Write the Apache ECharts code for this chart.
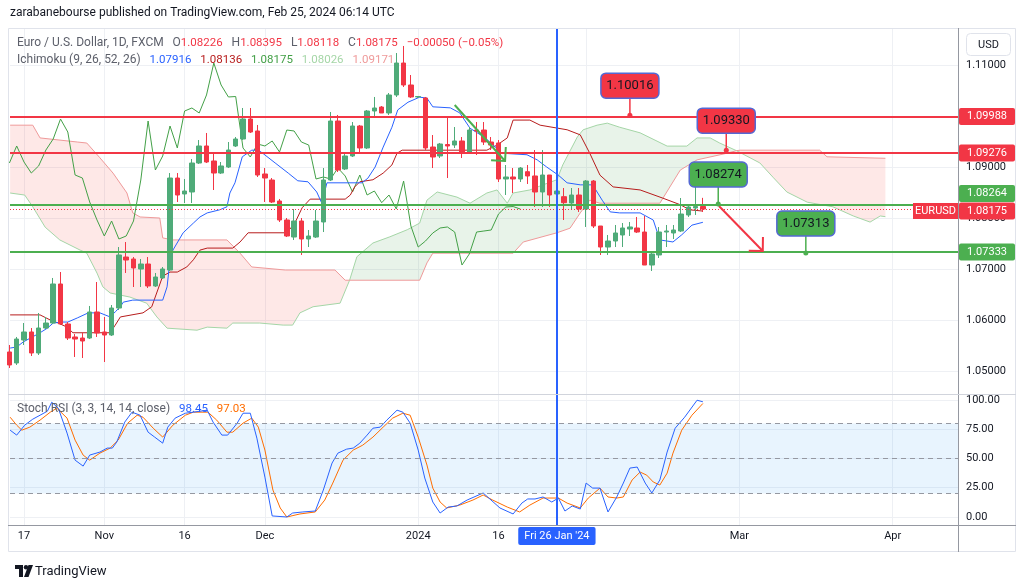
<!DOCTYPE html>
<html>
<head>
<meta charset="utf-8">
<title>EURUSD 1D</title>
<script src="https://cdn.jsdelivr.net/npm/echarts@6/dist/echarts.min.js"></script>
<style>
html,body{margin:0;padding:0;background:#ffffff;}
#chart{width:1024px;height:588px;}
</style>
</head>
<body>
<div id="chart"></div>
<script>
// ---------------- DATA ----------------
// daily bars; bar index 0 = 2023-10-17, first bar (index -2) = 2023-10-13
const firstIndex = -2;
const opens = [
  1.05373,1.05157,
  1.05608,1.05765,1.05353,1.05843,1.05941,1.06706,1.05922,1.05667,1.05647,1.05647,
  1.06157,1.05765,1.05706,1.06235,1.07235,1.07196,1.07000,1.07098,1.06667,1.06824,
  1.06980,1.08784,1.08471,1.08510,1.09078,1.09412,1.09118,1.08882,1.09000,1.09412,
  1.09549,1.09941,1.09706,1.08863,1.08745,1.08333,1.07961,1.07627,1.07941,1.07588,
  1.07627,1.07922,1.08745,1.09902,1.08961,1.09216,1.09804,1.09373,1.10098,1.10176,
  1.10059,1.10412,1.11039,1.10608,1.10373,1.10353,1.09392,1.09216,1.09441,1.09431,
  1.09510,1.09294,1.09725,1.09725,1.09490,1.09471,1.08765,1.08804,1.08765,1.08908,
  1.08824,1.08510,1.08843,1.08471,1.08418,1.08294,1.08451,1.08176,1.08725,1.07843,
  1.07431,1.07549,1.07667,1.07784,1.07804,1.07725,1.07078,1.07275,1.07725,1.07706,
  1.07745,1.08059,1.08196,1.08226
];
const highs = [
  1.05510,1.05667,
  1.05941,1.05843,1.06137,1.06059,1.06824,1.06941,1.05961,1.05725,1.05745,1.06275,
  1.06745,1.06059,1.06294,1.07431,1.07529,1.07235,1.07196,1.07235,1.06922,1.07039,
  1.08882,1.08882,1.08765,1.09157,1.09529,1.09667,1.09275,1.09098,1.09490,1.09588,
  1.10157,1.10157,1.09824,1.08980,1.08784,1.08373,1.08000,1.08176,1.08000,1.07765,
  1.08157,1.08980,1.10078,1.10020,1.09275,1.09882,1.09824,1.10118,1.10373,1.10196,
  1.10451,1.11235,1.11373,1.10804,1.10392,1.10373,1.09627,1.09471,1.10000,1.09784,
  1.09588,1.09784,1.09882,1.09882,1.09588,1.09529,1.09039,1.08980,1.09000,1.09039,
  1.09333,1.09333,1.08843,1.08588,1.08588,1.08588,1.08588,1.08745,1.08745,1.07843,
  1.07667,1.07863,1.07902,1.07922,1.08020,1.08039,1.07333,1.07823,1.07863,1.07863,
  1.08392,1.08255,1.08863,1.08395
];
const lows = [
  1.05059,1.05118,
  1.05510,1.05294,1.05314,1.05824,1.05922,1.05902,1.05608,1.05275,1.05255,1.05627,
  1.05667,1.05176,1.05686,1.06196,1.06922,1.06647,1.06647,1.06627,1.06647,1.06804,
  1.06961,1.08314,1.08294,1.08294,1.09059,1.09078,1.08549,1.08863,1.08980,1.09392,
  1.09529,1.09667,1.08804,1.08314,1.08294,1.07922,1.07627,1.07569,1.07275,1.07431,
  1.07608,1.07725,1.08725,1.08902,1.08941,1.09196,1.09294,1.09353,1.09961,1.10059,
  1.10020,1.10373,1.10569,1.10353,1.10353,1.09333,1.08980,1.09176,1.08784,1.09373,
  1.09176,1.09275,1.09235,1.09431,1.09333,1.08706,1.08451,1.08490,1.08706,1.08667,
  1.08216,1.08216,1.08216,1.08412,1.07961,1.08157,1.08118,1.07824,1.07804,1.07275,
  1.07275,1.07431,1.07431,1.07647,1.07706,1.07078,1.06961,1.07216,1.07431,1.07588,
  1.07725,1.08020,1.08059,1.08118
];
const closes = [
  1.05118,1.05627,
  1.05765,1.05353,1.05843,1.05941,1.06706,1.05922,1.05647,1.05627,1.05588,1.06157,
  1.05745,1.05706,1.06235,1.07275,1.07176,1.07020,1.07098,1.06667,1.06843,1.07000,
  1.08784,1.08451,1.08529,1.09078,1.09412,1.09098,1.08882,1.09020,1.09333,1.09549,
  1.09941,1.09686,1.08843,1.08784,1.08314,1.07961,1.07647,1.07941,1.07588,1.07647,
  1.07941,1.08745,1.09902,1.08941,1.09216,1.09804,1.09373,1.10098,1.10157,1.10059,
  1.10412,1.11039,1.10608,1.10373,1.10382,1.09373,1.09196,1.09451,1.09412,1.09510,
  1.09294,1.09725,1.09706,1.09490,1.09431,1.08765,1.08804,1.08765,1.08980,1.08824,
  1.08510,1.08843,1.08451,1.08529,1.08300,1.08451,1.08176,1.08725,1.07843,1.07431,
  1.07549,1.07706,1.07804,1.07824,1.07725,1.07078,1.07294,1.07725,1.07745,1.07765,
  1.08078,1.08216,1.08225,1.08175
];

// Ichimoku (9, 26, 52, 26) lines as [barIndex, price]
const conversionLine = [[-1.9,1.0545],[-1.0,1.0547],[-0.1,1.0557],[2.2,1.0575],[3.2,1.0584],[4.0,1.0594],[5.2,1.0596],[6.0,1.0596],[7.3,1.0604],[8.8,1.0614],[10.4,1.0614],[11.8,1.0606],[12.5,1.0616],[13.2,1.0626],[13.6,1.0635],[14.9,1.0639],[19.0,1.0639],[19.6,1.0665],[20.0,1.0718],[20.4,1.0737],[21.8,1.0771],[23.2,1.0790],[24.1,1.0802],[25.1,1.0810],[26.8,1.0816],[27.8,1.0822],[28.2,1.0849],[28.9,1.0869],[29.9,1.0920],[31.2,1.0933],[32.1,1.0933],[32.7,1.0927],[34.4,1.0908],[36.2,1.0888],[37.5,1.0873],[38.9,1.0871],[40.1,1.0851],[40.8,1.0829],[41.5,1.0869],[46.3,1.0869],[47.1,1.0878],[48.1,1.0900],[49.2,1.0939],[50.4,1.0978],[51.2,1.1012],[52.6,1.1027],[54.2,1.1037],[55.2,1.1035],[56.0,1.1018],[58.4,1.1016],[59.7,1.1006],[61.1,1.0976],[63.2,1.0957],[63.8,1.0949],[65.5,1.0927],[68.9,1.0924],[70.3,1.0914],[71.6,1.0900],[73.2,1.0884],[74.4,1.0869],[76.2,1.0865],[77.9,1.0865],[79.2,1.0835],[80.3,1.0812],[81.6,1.0810],[84.4,1.0810],[86.2,1.0796],[87.1,1.0757],[88.9,1.0753],[90.1,1.0767],[91.5,1.0786],[93.0,1.07916]];
const baseLine = [[-1.9,1.0610],[2.2,1.0610],[3.6,1.0600],[4.7,1.0594],[5.9,1.0586],[6.7,1.0575],[11.8,1.0575],[12.5,1.0590],[13.2,1.0606],[16.3,1.0614],[17.5,1.0626],[19.0,1.0686],[20.0,1.0694],[21.0,1.0694],[22.3,1.0704],[23.2,1.0718],[24.1,1.0737],[25.1,1.0741],[28.6,1.0741],[29.6,1.0753],[30.7,1.0771],[36.0,1.0771],[37.1,1.0790],[38.1,1.0820],[39.2,1.0837],[44.0,1.0837],[44.7,1.0845],[45.3,1.0861],[46.0,1.0871],[47.8,1.0875],[49.2,1.0888],[50.4,1.0904],[51.1,1.0927],[51.8,1.0933],[63.4,1.0933],[64.8,1.0943],[66.2,1.0957],[67.0,1.0992],[69.3,1.0992],[70.7,1.0982],[74.4,1.0973],[76.2,1.0963],[77.5,1.0927],[78.9,1.0884],[80.7,1.0861],[84.4,1.0855],[87.5,1.0839],[89.9,1.0826],[91.2,1.0816],[93.0,1.08136]];
const laggingShift = 25; // lagging span = close plotted 25 bars back
const leadingSpanA = [[-1.9,1.0849],[0.1,1.0845],[1.2,1.0822],[2.9,1.0782],[4.9,1.0757],[7.7,1.0737],[8.6,1.0731],[10.0,1.0692],[10.8,1.0665],[11.8,1.0653],[14.5,1.0645],[16.8,1.0633],[18.2,1.0606],[19.6,1.0584],[23.7,1.0580],[25.1,1.0586],[27.8,1.0584],[28.6,1.0594],[32.3,1.0594],[35.5,1.0590],[36.8,1.0590],[37.8,1.0614],[39.6,1.0626],[43.3,1.0633],[44.6,1.0678],[45.6,1.0724],[47.8,1.0751],[50.1,1.0763],[52.5,1.0777],[54.2,1.0790],[55.2,1.0835],[56.6,1.0851],[59.3,1.0841],[61.1,1.0829],[63.4,1.0849],[64.8,1.0855],[66.2,1.0829],[67.0,1.0849],[69.3,1.0855],[71.1,1.0865],[73.0,1.0875],[73.8,1.0904],[75.8,1.0959],[76.6,1.0973],[78.5,1.0982],[79.9,1.0986],[81.6,1.0978],[84.4,1.0967],[88.1,1.0941],[90.8,1.0941],[92.2,1.0957],[94.0,1.0957],[95.3,1.0947],[97.6,1.0932],[100.8,1.0908],[102.6,1.0880],[104.5,1.0851],[107.3,1.0831],[110.8,1.0822],[113.6,1.0804],[115.9,1.0792],[117.3,1.0804],[118.0,1.08026]];
const leadingSpanB = [[-1.9,1.0982],[1.2,1.0982],[2.2,1.0957],[7.3,1.0949],[8.6,1.0947],[10.4,1.0918],[12.2,1.0888],[14.1,1.0849],[14.9,1.0810],[15.9,1.0802],[18.6,1.0800],[19.0,1.0761],[20.4,1.0757],[27.8,1.0757],[29.6,1.0731],[31.2,1.0704],[35.8,1.0698],[42.6,1.0698],[44.0,1.0678],[44.6,1.0678],[54.2,1.0678],[55.2,1.0712],[56.0,1.0731],[67.0,1.0731],[68.4,1.0753],[73.0,1.0771],[74.8,1.0780],[76.2,1.0810],[77.5,1.0835],[78.9,1.0829],[87.1,1.0829],[89.9,1.0894],[92.2,1.0914],[96.3,1.0927],[97.6,1.0932],[98.1,1.0933],[109.0,1.0933],[110.0,1.0920],[118.0,1.09171]];
const cloudCrossings = [44.6, 97.6];

// Stoch RSI (3, 3, 14, 14, close), [barIndex, value]
const stochK = [[-1.9,74.2],[-1.0,70.0],[0.1,78.5],[1.2,83.6],[2.2,87.0],[3.2,90.4],[3.8,98.1],[4.7,93.0],[5.9,71.7],[7.0,48.6],[8.1,43.5],[9.0,52.9],[10.4,55.5],[11.4,58.9],[12.1,58.9],[12.7,64.0],[13.8,81.1],[14.8,89.6],[15.9,87.0],[17.0,72.5],[17.9,68.3],[19.0,63.1],[19.7,76.8],[20.7,84.5],[22.1,88.7],[23.2,89.6],[25.1,91.3],[25.9,81.1],[27.1,70.0],[27.9,70.0],[29.2,80.2],[30.0,88.7],[31.0,88.7],[31.9,67.4],[33.0,34.1],[34.0,0.9],[36.0,0],[36.8,3.4],[38.2,4.3],[39.9,5.1],[41.0,23.0],[42.2,46.1],[43.0,54.6],[44.2,58.0],[45.1,58.9],[46.0,63.1],[47.0,70.0],[47.8,75.9],[48.8,76.8],[49.7,82.8],[51.1,91.3],[51.9,89.6],[52.9,80.2],[54.0,57.2],[54.9,33.3],[56.0,12.8],[57.0,3.4],[58.1,8.5],[59.3,9.4],[60.7,14.5],[62.9,20.5],[65.2,7.7],[67.0,2.6],[68.2,11.9],[69.0,15.4],[70.0,15.4],[71.1,17.1],[72.3,12.8],[73.2,16.2],[74.1,5.1],[75.1,9.4],[76.2,6.8],[77.0,29.0],[77.9,24.7],[78.9,24.7],[80.0,4.3],[81.2,17.1],[82.1,29.0],[83.0,41.8],[84.0,42.7],[85.1,29.0],[86.0,20.5],[87.1,31.6],[88.1,55.5],[89.2,75.9],[90.5,85.3],[92.2,99.8],[93.0,98.45]];
const stochD = [[-1.9,85.3],[-1.0,78.5],[-0.3,74.2],[0.8,76.8],[2.2,82.8],[3.6,89.6],[4.5,93.0],[5.9,84.5],[7.0,65.7],[8.1,52.9],[9.0,48.6],[10.4,54.6],[11.8,58.9],[12.9,65.7],[14.2,80.2],[15.5,87.0],[16.3,85.3],[17.7,75.9],[19.0,68.3],[20.4,78.5],[22.1,87.0],[23.2,89.6],[25.2,89.6],[26.4,82.8],[27.8,72.5],[28.6,72.5],[30.0,80.2],[31.2,84.5],[32.1,76.8],[33.0,57.2],[34.1,23.0],[35.1,7.7],[36.0,0],[37.8,2.6],[39.9,4.3],[41.2,14.5],[42.3,29.0],[43.7,48.6],[45.1,57.2],[46.4,61.4],[47.8,68.3],[49.2,76.8],[50.5,84.5],[51.9,88.7],[52.9,87.0],[54.0,68.3],[55.2,44.4],[56.0,24.7],[57.0,12.8],[57.9,7.7],[59.7,10.2],[61.5,14.5],[62.9,18.8],[64.2,14.5],[66.2,8.5],[67.9,4.3],[69.3,10.2],[71.1,16.2],[73.2,16.2],[74.4,11.9],[76.2,7.7],[77.3,16.2],[78.9,24.7],[80.0,17.1],[81.2,16.2],[82.1,17.1],[83.3,31.6],[84.4,38.4],[85.3,35.8],[86.2,29.9],[87.1,27.3],[88.1,37.5],[88.9,54.6],[90.1,74.2],[91.5,87.0],[93.0,97.03]];
const stochBands = [20, 50, 80];

// drawings
const levelPrices = [1.09988, 1.09276, 1.08264, 1.07333];
const levelKinds  = ['red', 'red', 'green', 'green'];
const notePoints  = [[83.0, 1.10016], [96.2, 1.09330], [95.1, 1.08274], [107.1, 1.07313]];
const noteKinds   = ['red', 'red', 'green', 'green'];
const arrowLines  = [[59.0, 1.10216, 65.9, 1.09118], [95.2, 1.08235, 101.2, 1.07353]];
const arrowKinds  = ['green', 'red'];
const crosshairIndex = 73;
const crosshairLabel = "Fri 26 Jan '24";

// axes
const tickIndex  = [0, 11, 22, 33, 54, 65, 77, 98, 119];
const tickLabels = ['17', 'Nov', '16', 'Dec', '2024', '16', 'Feb', 'Mar', 'Apr'];
const priceTicks = [1.05, 1.06, 1.07, 1.08, 1.09, 1.10, 1.11];
const stochTicks = [0, 25, 50, 75, 100];

// ---------------- STYLE ----------------
const RED = '#F23645', GREEN = '#4CAF50';
const KIND = {red: RED, green: GREEN};
const UP = '#4FAB79', DOWN = '#F23645';
const FONT = 'Roboto, "Noto Sans", sans-serif';
const GRIDC = '#eef0f4';
const TXT = '#131722';
const X_MIN = -1.918, X_MAX = 127.945;
const P_MIN = 1.04549, P_MAX = 1.11706;
const S_MIN = -6.84, S_MAX = 104.27;
const tagShift = {'1.08264': -11, '1.08175': 2};

// ---------------- BUILD ----------------
const candles = opens.map((o, i) => [i + firstIndex, o, closes[i], lows[i], highs[i]]);
const lagging = closes.map((c, i) => [i + firstIndex - laggingShift, c]).filter(p => p[0] >= firstIndex);
const last = opens.length - 1;
const lastClose = closes[last];
const chg = lastClose - closes[last - 1];
const sgn = chg < 0 ? '\u2212' : '+';
const chgTxt = sgn + Math.abs(chg).toFixed(5) + ' (' + sgn + Math.abs(chg / closes[last - 1] * 100).toFixed(2) + '%)';
const lastOf = a => a[a.length - 1][1];
const tickMap = {};
tickIndex.forEach((v, i) => tickMap[v] = tickLabels[i]);

const tags = levelPrices.map((p, i) => [p, KIND[levelKinds[i]]]).concat([[lastClose, RED]]);

const chart = echarts.init(document.getElementById('chart'), null, {renderer: 'canvas'});

function cloudRender(params, api) {
  const bounds = [leadingSpanA[0][0]].concat(cloudCrossings, [leadingSpanA[leadingSpanA.length - 1][0]]);
  const children = [];
  for (let k = 0; k < bounds.length - 1; k++) {
    const lo = bounds[k] - 1e-9, hi = bounds[k + 1] + 1e-9;
    const a = leadingSpanA.filter(p => p[0] >= lo && p[0] <= hi);
    const b = leadingSpanB.filter(p => p[0] >= lo && p[0] <= hi);
    const aAbove = a[Math.floor(a.length / 2)][1] > b[Math.floor(b.length / 2)][1];
    const pts = a.concat(b.slice().reverse()).map(p => api.coord(p));
    children.push({type: 'polygon', shape: {points: pts},
      style: {fill: aAbove ? 'rgba(67,160,71,0.12)' : 'rgba(244,67,54,0.12)'}});
  }
  return {type: 'group', children};
}

function noteRender(params, api) {
  const c = api.coord([api.value(0), api.value(1)]);
  const col = KIND[noteKinds[params.dataIndex]];
  const stem = 17, bw = 58, bh = 25;
  return {type: 'group', children: [
    {type: 'line', shape: {x1: c[0], y1: c[1], x2: c[0], y2: c[1] - stem}, style: {stroke: col, lineWidth: 1.5}},
    {type: 'circle', shape: {cx: c[0], cy: c[1], r: 2.5}, style: {fill: col}},
    {type: 'rect', shape: {x: c[0] - bw / 2, y: c[1] - stem - bh, width: bw, height: bh, r: 5},
      style: {fill: col, stroke: '#5468d4', lineWidth: 1.5}},
    {type: 'text', style: {text: api.value(1).toFixed(5), x: c[0], y: c[1] - stem - bh / 2,
      align: 'center', verticalAlign: 'middle', fill: '#131722', fontSize: 13, fontFamily: FONT}}
  ]};
}

function arrowRender(params, api) {
  const p1 = api.coord([api.value(0), api.value(1)]);
  const p2 = api.coord([api.value(2), api.value(3)]);
  const col = KIND[arrowKinds[params.dataIndex]];
  const ang = Math.atan2(p2[1] - p1[1], p2[0] - p1[0]);
  const L = 14;
  const h1 = [p2[0] - L * Math.cos(ang - Math.PI / 4), p2[1] - L * Math.sin(ang - Math.PI / 4)];
  const h2 = [p2[0] - L * Math.cos(ang + Math.PI / 4), p2[1] - L * Math.sin(ang + Math.PI / 4)];
  return {type: 'group', children: [
    {type: 'polyline', shape: {points: [p1, p2]}, style: {stroke: col, lineWidth: 2, fill: null}},
    {type: 'polyline', shape: {points: [h1, p2, h2]}, style: {stroke: col, lineWidth: 2, fill: null}}
  ]};
}

function tagRender(params, api) {
  const cs = params.coordSys;
  const price = api.value(0);
  const key = price.toFixed(5);
  const y = api.coord([X_MIN, price])[1] + (tagShift[key] || 0);
  const x = cs.x + cs.width + 1;
  const col = tags[params.dataIndex][1];
  return {type: 'group', children: [
    {type: 'rect', shape: {x: x, y: y - 8.5, width: 56, height: 17, r: 2}, style: {fill: col}},
    {type: 'text', style: {text: key, x: x + 28, y: y, align: 'center', verticalAlign: 'middle',
      fill: '#ffffff', fontSize: 11, fontFamily: FONT}}
  ]};
}

const rt = (c, s) => ({color: c, fontSize: s || 12, fontFamily: FONT, fontWeight: 'normal'});
const GRAY = '#5d606b';
const NUM = 11.5;

const option = {
  animation: false,
  backgroundColor: '#ffffff',
  textStyle: {fontFamily: FONT},
  title: [
    {text: 'zarabanebourse published on TradingView.com, Feb 25, 2024 06:14 UTC', left: 10, top: 7, padding: 0,
      textStyle: {fontSize: 12, fontWeight: 'normal', color: TXT, fontFamily: FONT}},
    {text: '{g|Euro / U.S. Dollar, 1D, FXCM}  {g|O}{r|' + opens[last].toFixed(5) + '}  {g|H}{r|' + highs[last].toFixed(5) +
      '}  {g|L}{r|' + lows[last].toFixed(5) + '}  {g|C}{r|' + lastClose.toFixed(5) + '}  {r|' + chgTxt + '}',
      left: 17, top: 34, padding: 0, textStyle: {fontWeight: 'normal', rich: {g: rt(GRAY), r: rt(RED, NUM)}}},
    {text: '{g|Ichimoku (9, 26, 52, 26)}  {a|' + lastOf(conversionLine).toFixed(5) + '}  {b|' + lastOf(baseLine).toFixed(5) +
      '}  {c|' + lastClose.toFixed(5) + '}  {d|' + lastOf(leadingSpanA).toFixed(5) + '}  {e|' + lastOf(leadingSpanB).toFixed(5) + '}',
      left: 17, top: 51, padding: 0, textStyle: {fontWeight: 'normal',
        rich: {g: rt(GRAY), a: rt('#2962FF', NUM), b: rt('#B71C1C', NUM), c: rt('#43A047', NUM), d: rt('#A5D6A7', NUM), e: rt('#EF9A9A', NUM)}}},
    {text: '{g|Stoch RSI (3, 3, 14, 14, close)}  {k|' + lastOf(stochK).toFixed(2) + '}  {d|' + lastOf(stochD).toFixed(2) + '}',
      left: 17, top: 400, padding: 0, textStyle: {fontWeight: 'normal', rich: {g: rt(GRAY), k: rt('#2962FF', NUM), d: rt('#FF6D00', NUM)}}}
  ],
  grid: [
    {left: 10, right: 66, top: 29, height: 365},
    {left: 10, right: 66, top: 395, height: 130}
  ],
  xAxis: [
    {type: 'value', gridIndex: 0, min: X_MIN, max: X_MAX,
      axisLine: {show: false}, axisTick: {show: false, customValues: tickIndex},
      axisLabel: {show: false, customValues: tickIndex},
      splitLine: {show: true, lineStyle: {color: GRIDC, width: 1}}},
    {type: 'value', gridIndex: 1, min: X_MIN, max: X_MAX,
      axisLine: {show: false}, axisTick: {show: false, customValues: tickIndex},
      axisLabel: {show: true, customValues: tickIndex, color: TXT, fontSize: 11, margin: 6, fontFamily: FONT,
        formatter: v => tickMap[Math.round(v)] || ''},
      splitLine: {show: true, lineStyle: {color: GRIDC, width: 1}}}
  ],
  yAxis: [
    {type: 'value', gridIndex: 0, position: 'right', min: P_MIN, max: P_MAX,
      axisLine: {show: false}, axisTick: {show: false, customValues: priceTicks},
      axisLabel: {show: true, customValues: priceTicks, color: TXT, fontSize: 11, margin: 8, fontFamily: FONT,
        formatter: v => v.toFixed(5)},
      splitLine: {show: true, lineStyle: {color: GRIDC, width: 1}}},
    {type: 'value', gridIndex: 1, position: 'right', min: S_MIN, max: S_MAX,
      axisLine: {show: false}, axisTick: {show: false, customValues: stochTicks},
      axisLabel: {show: true, customValues: stochTicks, color: TXT, fontSize: 11, margin: 8, fontFamily: FONT,
        formatter: v => v.toFixed(2)},
      splitLine: {show: true, lineStyle: {color: GRIDC, width: 1}}}
  ],
  series: [
    {type: 'custom', name: 'cloud', xAxisIndex: 0, yAxisIndex: 0, data: [[0, 1.08]], renderItem: cloudRender,
      clip: true, silent: true, z: 1, encode: {x: 0, y: 1}},
    {type: 'line', name: 'Leading Span A', xAxisIndex: 0, yAxisIndex: 0, data: leadingSpanA, symbol: 'none',
      lineStyle: {color: '#A5D6A7', width: 1}, z: 2, silent: true},
    {type: 'line', name: 'Leading Span B', xAxisIndex: 0, yAxisIndex: 0, data: leadingSpanB, symbol: 'none',
      lineStyle: {color: '#EF9A9A', width: 1}, z: 2, silent: true},
    {type: 'line', name: 'Lagging Span', xAxisIndex: 0, yAxisIndex: 0, data: lagging, symbol: 'none',
      lineStyle: {color: '#43A047', width: 1}, z: 3, silent: true},
    {type: 'line', name: 'Base Line', xAxisIndex: 0, yAxisIndex: 0, data: baseLine, symbol: 'none',
      lineStyle: {color: '#B71C1C', width: 1}, z: 3, silent: true},
    {type: 'line', name: 'Conversion Line', xAxisIndex: 0, yAxisIndex: 0, data: conversionLine, symbol: 'none',
      lineStyle: {color: '#2962FF', width: 1}, z: 3, silent: true},
    {type: 'candlestick', name: 'EURUSD', xAxisIndex: 0, yAxisIndex: 0, data: candles, barWidth: 5, z: 4,
      encode: {x: 0, y: [1, 2, 3, 4]}, clip: true, silent: true,
      itemStyle: {color: UP, color0: DOWN, borderColor: UP, borderColor0: DOWN, borderWidth: 1},
      markLine: {silent: true, symbol: ['none', 'none'], animation: false, precision: 5, label: {show: false},
        data: levelPrices.map((p, i) => ({yAxis: p, lineStyle: {color: KIND[levelKinds[i]], width: 2, type: 'solid'}}))
          .concat([
            {yAxis: lastClose, lineStyle: {color: RED, width: 1, type: [1, 2]}},
            {xAxis: crosshairIndex, lineStyle: {color: '#2962FF', width: 2, type: 'solid'}}
          ])},
      markPoint: {silent: true, animation: false, data: [
        {coord: [X_MAX, lastClose], symbol: 'rect', symbolSize: [45, 16], symbolOffset: [-22.5, 2],
          itemStyle: {color: RED}, label: {show: true, formatter: 'EURUSD', color: '#ffffff', fontSize: 11, fontFamily: FONT}}
      ]}},
    {type: 'custom', name: 'arrows', xAxisIndex: 0, yAxisIndex: 0, data: arrowLines, renderItem: arrowRender,
      encode: {x: [0, 2], y: [1, 3]}, z: 6, silent: true},
    {type: 'custom', name: 'notes', xAxisIndex: 0, yAxisIndex: 0, data: notePoints, renderItem: noteRender,
      encode: {x: 0, y: 1}, z: 7, silent: true},
    {type: 'custom', name: 'tags', xAxisIndex: 0, yAxisIndex: 0, data: tags.map(t => [t[0]]), renderItem: tagRender,
      encode: {y: 0}, z: 8, silent: true, clip: false},
    {type: 'line', name: 'K', xAxisIndex: 1, yAxisIndex: 1, data: stochK, symbol: 'none',
      lineStyle: {color: '#2962FF', width: 1}, z: 4, silent: true,
      markArea: {silent: true, itemStyle: {color: 'rgba(33,150,243,0.10)'},
        data: [[{yAxis: stochBands[0]}, {yAxis: stochBands[2]}]]},
      markLine: {silent: true, symbol: ['none', 'none'], animation: false, precision: 2, label: {show: false},
        data: stochBands.map(v => ({yAxis: v, lineStyle: {color: '#9598a1', width: 1, type: [5, 4]}})).concat([
          {xAxis: crosshairIndex, lineStyle: {color: '#2962FF', width: 2, type: 'solid'},
            label: {show: true, position: 'start', formatter: crosshairLabel, color: '#ffffff', backgroundColor: '#2962FF',
              padding: [4, 6, 3, 6], borderRadius: 2, fontSize: 11, fontFamily: FONT, distance: 2}}
        ])}},
    {type: 'line', name: 'D', xAxisIndex: 1, yAxisIndex: 1, data: stochD, symbol: 'none',
      lineStyle: {color: '#FF6D00', width: 1}, z: 3, silent: true}
  ],
  graphic: [
    {type: 'rect', shape: {x: 8.5, y: 28.5, width: 1007, height: 523}, style: {fill: null, stroke: '#e0e3eb', lineWidth: 1}, z: 0},
    {type: 'line', shape: {x1: 958.5, y1: 28, x2: 958.5, y2: 552}, style: {stroke: '#9598a1', lineWidth: 1}, z: 50},
    {type: 'line', shape: {x1: 8, y1: 394.5, x2: 1016, y2: 394.5}, style: {stroke: '#d1d4dc', lineWidth: 1}, z: 50},
    {type: 'line', shape: {x1: 8, y1: 525.5, x2: 1016, y2: 525.5}, style: {stroke: '#9598a1', lineWidth: 1}, z: 50},
    {type: 'rect', shape: {x: 966.5, y: 33.5, width: 44, height: 22, r: 4}, style: {fill: '#ffffff', stroke: '#e0e3eb', lineWidth: 1}, z: 50},
    {type: 'text', style: {text: 'USD', x: 988.5, y: 45, align: 'center', verticalAlign: 'middle', fill: TXT, fontSize: 11, fontFamily: FONT}, z: 51},
    {type: 'group', z: 50, children: [
      {type: 'rect', shape: {x: 15, y: 565, width: 8, height: 4}, style: {fill: TXT}},
      {type: 'rect', shape: {x: 19, y: 565, width: 4, height: 12}, style: {fill: TXT}},
      {type: 'circle', shape: {cx: 26, cy: 567.2, r: 2.2}, style: {fill: TXT}},
      {type: 'polygon', shape: {points: [[28.5, 565], [33, 565], [28.5, 577], [24, 577]]}, style: {fill: TXT}}
    ]},
    {type: 'text', style: {text: 'TradingView', x: 35, y: 571.5, verticalAlign: 'middle', fill: TXT, fontSize: 13, fontFamily: FONT}, z: 50}
  ]
};
chart.setOption(option);
</script>
</body>
</html>
